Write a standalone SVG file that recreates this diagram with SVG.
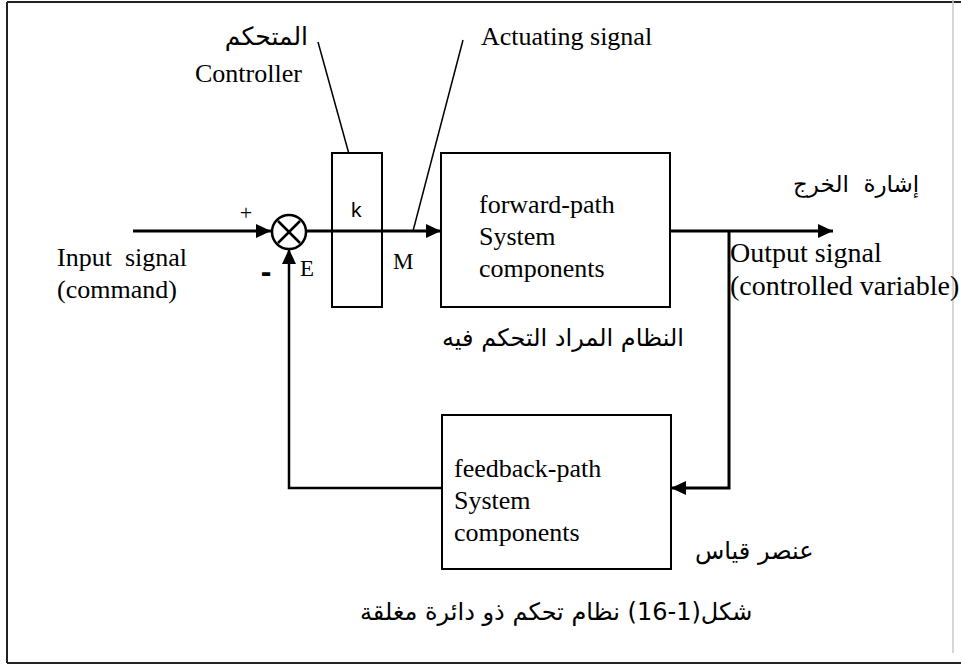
<svg xmlns="http://www.w3.org/2000/svg" width="961" height="666" viewBox="0 0 961 666">
<style>
.box{fill:#fff;stroke:#000;stroke-width:2}
.en{font-family:"Liberation Serif","Times New Roman",serif;font-size:26px;fill:#000}
.ar{font-family:"DejaVu Sans",sans-serif;font-size:24px;fill:#000}
.sig{fill:none;stroke:#000;stroke-width:3}
.thin{fill:none;stroke:#000;stroke-width:1.5}
</style>
<defs>
<marker id="ah" markerUnits="userSpaceOnUse" markerWidth="16" markerHeight="14" refX="15" refY="7" orient="auto">
<path d="M0,0 L15,7 L0,14 Z" fill="#000"/>
</marker>
</defs>
<rect width="961" height="666" fill="#fff"/>
<g id="frame">
<line x1="7" y1="2" x2="961" y2="2" stroke="#222" stroke-width="2"/>
<line x1="7" y1="663" x2="961" y2="663" stroke="#222" stroke-width="2"/>
<line x1="7" y1="2" x2="7" y2="663" stroke="#222" stroke-width="2"/>
<line x1="953" y1="0" x2="953" y2="653" stroke="#c8c8c8" stroke-width="1.5"/>
</g>
<g id="connectors">
<line class="sig" x1="133" y1="231" x2="271" y2="231" marker-end="url(#ah)"/>
<line class="sig" x1="306" y1="231" x2="441" y2="231" marker-end="url(#ah)"/>
<line class="sig" x1="670" y1="231" x2="833" y2="231" marker-end="url(#ah)"/>
<polyline class="sig" points="729,231 729,488 671,488" marker-end="url(#ah)"/>
<polyline class="sig" points="442,488 289,488 289,249" marker-end="url(#ah)" style="stroke-width:2.5"/>
<line class="thin" x1="318" y1="42" x2="357" y2="183"/>
<line class="thin" x1="463" y1="40" x2="413" y2="231"/>
</g>
<g id="summing">
<circle cx="289" cy="232" r="17" fill="#fff" stroke="#000" stroke-width="2.5"/>
<line x1="278" y1="221" x2="300" y2="243" stroke="#000" stroke-width="2.5"/>
<line x1="300" y1="221" x2="278" y2="243" stroke="#000" stroke-width="2.5"/>
<text class="en" x="246" y="220" text-anchor="middle" style="font-size:22px">+</text>
<text x="266" y="282" text-anchor="middle" style="font-family:'Liberation Sans',Arial,sans-serif;font-size:32px;font-weight:bold">-</text>
<text class="en" x="300" y="276" style="font-size:23px">E</text>
</g>
<g id="controller">
<rect class="box" x="332" y="153" width="50" height="154" fill="none"/>
<line class="sig" x1="332" y1="231" x2="382" y2="231"/>
<text x="351" y="217" style="font-family:'Liberation Sans',Arial,sans-serif;font-size:21px">k</text>
<text class="en" x="393" y="269" style="font-size:23px">M</text>
<text class="en" x="195" y="82">Controller</text>
<text class="ar" x="308" y="45" text-anchor="end" style="font-size:25px">المتحكم</text>
</g>
<g id="actuating">
<text class="en" x="481" y="45">Actuating signal</text>
</g>
<g id="input">
<text class="en" x="57" y="266" xml:space="preserve">Input  signal</text>
<text class="en" x="57" y="298">(command)</text>
</g>
<g id="forward">
<rect class="box" x="441" y="153" width="229" height="154"/>
<text class="en" x="479" y="213">forward-path</text>
<text class="en" x="479" y="245">System</text>
<text class="en" x="479" y="277">components</text>
<text class="ar" x="442" y="346">النظام المراد التحكم فيه</text>
</g>
<g id="output">
<text class="en" x="730" y="262" style="font-size:28px">Output signal</text>
<text class="en" x="730" y="295" style="font-size:28px">(controlled variable)</text>
<text class="ar" x="793" y="192" style="font-size:23px" xml:space="preserve">إشارة  الخرج</text>
</g>
<g id="feedback">
<rect class="box" x="442" y="415" width="229" height="154"/>
<text class="en" x="454" y="477">feedback-path</text>
<text class="en" x="454" y="509">System</text>
<text class="en" x="454" y="541">components</text>
<text class="ar" x="695" y="559">عنصر قياس</text>
</g>
<g id="caption">
<text class="ar" x="360" y="620">شكل(1-16) نظام تحكم ذو دائرة مغلقة</text>
</g>
</svg>
